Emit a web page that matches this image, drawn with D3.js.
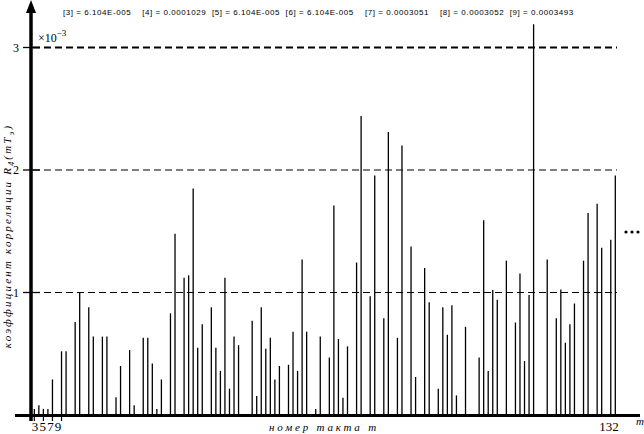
<!DOCTYPE html>
<html>
  <head>
    <meta charset="utf-8">
    <title>Correlation coefficient</title>
    <script src="https://d3js.org/d3.v7.min.js"></script>
    <style>
      body { margin: 0; background: #fff; }
      text { font-family: "Liberation Serif", "DejaVu Serif", serif; }
      text.note { font-family: "Liberation Sans", "DejaVu Sans", sans-serif; }
    </style>
  </head>
  <body>
<svg width="644" height="434"></svg>
<script>
// bar values (x 10^-3) per step m; steps without a bar are left out
var steps = [3,4,5,6,7,9,10,12,13,15,16,18,19,21,22,24,25,27,28,29,30,31,33,34,36,37,38,39,40,
  42,43,44,45,46,47,48,51,52,53,54,55,56,57,59,60,61,62,63,65,66,68,69,70,71,72,74,75,77,78,
  80,81,83,84,86,87,89,90,92,93,94,95,96,98,101,102,103,104,105,107,109,110,111,112,113,
  116,118,119,120,121,122,124,125,127,128,130,131];
var values = [0.05,0.08,0.05,0.05,0.29,0.52,0.52,0.76,1.0,0.88,0.64,0.64,0.64,0.145,0.40,0.53,0.08,0.63,0.63,0.42,0.05,0.29,0.83,1.48,1.12,1.14,1.85,0.55,0.74,
  0.88,0.55,0.36,1.12,0.215,0.64,0.57,0.77,0.155,0.88,0.54,0.63,0.29,0.40,0.41,0.68,0.36,1.27,0.68,0.05,0.64,0.47,1.71,0.62,0.14,0.56,1.245,2.44,0.97,1.955,
  0.79,2.31,0.63,2.2,1.375,0.31,1.2,0.92,0.215,0.88,0.655,0.895,0.16,0.72,0.47,1.59,0.36,1.02,0.94,1.26,0.755,1.155,0.44,0.98,3.19,
  1.27,0.79,1.025,0.59,0.74,0.91,1.26,1.65,1.725,1.365,1.43,1.955];
var yTicks = [1, 2, 3];
var xTickVals = [3, 5, 7, 9];
var noteText = "[3] = 6.104E-005    [4] = 0.0001029  [5] = 6.104E-005  [6] = 6.104E-005    [7] = 0.0003051    [8] = 0.0003052  [9] = 0.0003493";

var svg = d3.select("svg");

var x = d3.scaleLinear().domain([3, 131]).range([34.3, 615.3]);
var y = d3.scaleLinear().domain([0, 3]).range([415, 47.5]);

// dashed grid lines
svg.append("g").selectAll("line")
  .data(yTicks)
  .enter().append("line")
    .attr("x1", 33).attr("x2", 617)
    .attr("y1", function(d) { return y(d); })
    .attr("y2", function(d) { return y(d); })
    .attr("stroke", "#000")
    .attr("stroke-width", function(d) { return d == 3 ? 2 : 1.2; })
    .attr("stroke-dasharray", "7,4");

// bars
svg.append("g").selectAll("line")
  .data(steps)
  .enter().append("line")
    .attr("x1", function(d) { return x(d); })
    .attr("x2", function(d) { return x(d); })
    .attr("y1", y(0))
    .attr("y2", function(d, i) { return y(values[i]); })
    .attr("stroke", "#000")
    .attr("stroke-width", 1.3);

// axes
svg.append("line")
  .attr("x1", 15).attr("x2", 640).attr("y1", 415.5).attr("y2", 415.5)
  .attr("stroke", "#000").attr("stroke-width", 3);
svg.append("line")
  .attr("x1", 31).attr("x2", 31).attr("y1", 8).attr("y2", 421)
  .attr("stroke", "#000").attr("stroke-width", 3.5);
svg.append("path")
  .attr("d", "M31,0 L26,13 L36,13 Z")
  .attr("fill", "#000");

// y ticks
var yt = svg.append("g");
yt.selectAll("line")
  .data(yTicks)
  .enter().append("line")
    .attr("x1", 23).attr("x2", 40)
    .attr("y1", function(d) { return y(d); })
    .attr("y2", function(d) { return y(d); })
    .attr("stroke", "#000").attr("stroke-width", 1.3);
yt.selectAll("text")
  .data(yTicks)
  .enter().append("text")
    .attr("x", 16).attr("y", function(d) { return y(d) + 4; })
    .attr("text-anchor", "middle")
    .attr("font-size", 12)
    .text(function(d) { return d; });

// x ticks
var xt = svg.append("g");
xt.selectAll("line")
  .data(xTickVals)
  .enter().append("line")
    .attr("x1", function(d) { return x(d); })
    .attr("x2", function(d) { return x(d); })
    .attr("y1", 415).attr("y2", 421)
    .attr("stroke", "#000").attr("stroke-width", 1.2);
xt.selectAll("text")
  .data(xTickVals)
  .enter().append("text")
    .attr("x", function(d, i) { return 35 + i * 7.7; })
    .attr("y", 431)
    .attr("text-anchor", "middle")
    .attr("font-size", 13)
    .text(function(d) { return d; });
svg.append("text")
  .attr("x", 609).attr("y", 431)
  .attr("text-anchor", "middle")
  .attr("font-size", 13)
  .text("132");
svg.append("text")
  .attr("x", 636).attr("y", 425)
  .attr("font-size", 11).attr("font-style", "italic")
  .text("m");

// axis titles
svg.append("text")
  .attr("x", 324).attr("y", 431)
  .attr("text-anchor", "middle")
  .attr("font-size", 11).attr("font-style", "italic")
  .attr("letter-spacing", 2.8)
  .text("номер такта m");

var yl = svg.append("text")
  .attr("transform", "translate(11,236) rotate(-90)")
  .attr("text-anchor", "middle")
  .attr("font-size", 11).attr("font-style", "italic")
  .attr("letter-spacing", 2.2);
yl.append("tspan").text("коэффициент корреляции R");
yl.append("tspan").attr("font-size", 8).attr("dy", 3).text("4");
yl.append("tspan").attr("dy", -3).text("(mT");
yl.append("tspan").attr("font-size", 8).attr("dy", 3).text("э");
yl.append("tspan").attr("dy", -3).text(")");

// scale factor
var sf = svg.append("text").attr("x", 38).attr("y", 42).attr("font-size", 12);
sf.append("tspan").text("×10");
sf.append("tspan").attr("font-size", 9).attr("dy", -6).text("−3");

// note on top
svg.append("text")
  .attr("class", "note")
  .attr("x", 63).attr("y", 15)
  .attr("font-size", 8)
  .attr("letter-spacing", 0.55)
  .attr("xml:space", "preserve")
  .style("white-space", "pre")
  .text(noteText);

// continuation dots
svg.append("g").selectAll("circle")
  .data([626, 632, 638])
  .enter().append("circle")
    .attr("cx", function(d) { return d; })
    .attr("cy", 232)
    .attr("r", 1.6)
    .attr("fill", "#000");
</script>
  </body>
</html>
